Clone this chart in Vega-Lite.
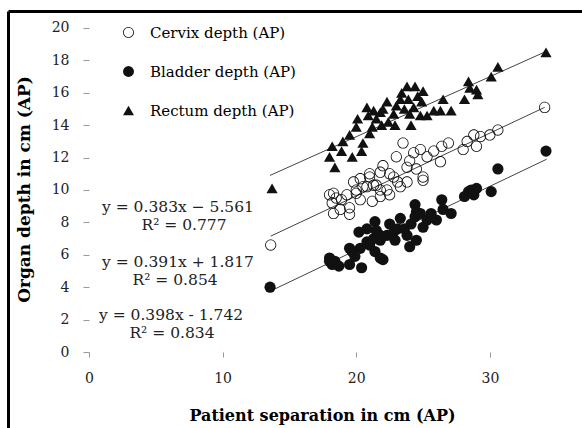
{
  "$schema": "https://vega.github.io/schema/vega-lite/v6.json",
  "width": 574,
  "height": 417,
  "autosize": "none",
  "padding": {"left": 8, "top": 11, "right": 0, "bottom": 0},
  "background": "white",
  "config": {
    "view": {"stroke": null},
    "font": "DejaVu Serif",
    "axis": {"labelFont": "DejaVu Serif", "titleFont": "DejaVu Serif", "grid": false}
  },
  "datasets": {
    "pts": [
      {"series": "Cervix depth (AP)", "sep": 13.6, "depth": 6.6},
      {"series": "Cervix depth (AP)", "sep": 18.0, "depth": 9.7},
      {"series": "Cervix depth (AP)", "sep": 18.2, "depth": 9.2},
      {"series": "Cervix depth (AP)", "sep": 18.3, "depth": 8.55},
      {"series": "Cervix depth (AP)", "sep": 18.3, "depth": 9.8},
      {"series": "Cervix depth (AP)", "sep": 18.5, "depth": 9.5},
      {"series": "Cervix depth (AP)", "sep": 18.8, "depth": 8.8},
      {"series": "Cervix depth (AP)", "sep": 18.9, "depth": 9.4},
      {"series": "Cervix depth (AP)", "sep": 19.3, "depth": 9.7},
      {"series": "Cervix depth (AP)", "sep": 19.5, "depth": 8.9},
      {"series": "Cervix depth (AP)", "sep": 19.5, "depth": 8.5},
      {"series": "Cervix depth (AP)", "sep": 19.8, "depth": 10.5},
      {"series": "Cervix depth (AP)", "sep": 20.0, "depth": 9.8},
      {"series": "Cervix depth (AP)", "sep": 20.0, "depth": 10.0},
      {"series": "Cervix depth (AP)", "sep": 20.3, "depth": 9.4},
      {"series": "Cervix depth (AP)", "sep": 20.3, "depth": 10.7},
      {"series": "Cervix depth (AP)", "sep": 20.5, "depth": 10.2},
      {"series": "Cervix depth (AP)", "sep": 20.8, "depth": 10.2},
      {"series": "Cervix depth (AP)", "sep": 21.0, "depth": 11.0},
      {"series": "Cervix depth (AP)", "sep": 21.0, "depth": 10.8},
      {"series": "Cervix depth (AP)", "sep": 21.2, "depth": 9.3},
      {"series": "Cervix depth (AP)", "sep": 21.3, "depth": 10.3},
      {"series": "Cervix depth (AP)", "sep": 21.5, "depth": 10.3},
      {"series": "Cervix depth (AP)", "sep": 21.8, "depth": 9.6},
      {"series": "Cervix depth (AP)", "sep": 21.8, "depth": 10.0},
      {"series": "Cervix depth (AP)", "sep": 21.8, "depth": 11.1},
      {"series": "Cervix depth (AP)", "sep": 22.0, "depth": 11.5},
      {"series": "Cervix depth (AP)", "sep": 22.3, "depth": 10.0},
      {"series": "Cervix depth (AP)", "sep": 22.5, "depth": 9.7},
      {"series": "Cervix depth (AP)", "sep": 22.5, "depth": 11.0},
      {"series": "Cervix depth (AP)", "sep": 22.8, "depth": 10.8},
      {"series": "Cervix depth (AP)", "sep": 23.0, "depth": 12.05},
      {"series": "Cervix depth (AP)", "sep": 23.1, "depth": 10.5},
      {"series": "Cervix depth (AP)", "sep": 23.3, "depth": 10.2},
      {"series": "Cervix depth (AP)", "sep": 23.5, "depth": 12.9},
      {"series": "Cervix depth (AP)", "sep": 23.8, "depth": 10.5},
      {"series": "Cervix depth (AP)", "sep": 23.8, "depth": 11.4},
      {"series": "Cervix depth (AP)", "sep": 24.0, "depth": 11.8},
      {"series": "Cervix depth (AP)", "sep": 24.3, "depth": 12.3},
      {"series": "Cervix depth (AP)", "sep": 24.5, "depth": 11.3},
      {"series": "Cervix depth (AP)", "sep": 24.8, "depth": 12.5},
      {"series": "Cervix depth (AP)", "sep": 25.0, "depth": 10.6},
      {"series": "Cervix depth (AP)", "sep": 25.0, "depth": 10.8},
      {"series": "Cervix depth (AP)", "sep": 25.3, "depth": 12.05},
      {"series": "Cervix depth (AP)", "sep": 25.8, "depth": 12.4},
      {"series": "Cervix depth (AP)", "sep": 26.3, "depth": 11.75},
      {"series": "Cervix depth (AP)", "sep": 26.4, "depth": 12.7},
      {"series": "Cervix depth (AP)", "sep": 26.9, "depth": 12.9},
      {"series": "Cervix depth (AP)", "sep": 28.0, "depth": 12.5},
      {"series": "Cervix depth (AP)", "sep": 28.3, "depth": 13.0},
      {"series": "Cervix depth (AP)", "sep": 28.8, "depth": 13.4},
      {"series": "Cervix depth (AP)", "sep": 29.0, "depth": 12.7},
      {"series": "Cervix depth (AP)", "sep": 29.3, "depth": 13.3},
      {"series": "Cervix depth (AP)", "sep": 30.0, "depth": 13.4},
      {"series": "Cervix depth (AP)", "sep": 30.6, "depth": 13.7},
      {"series": "Cervix depth (AP)", "sep": 34.1, "depth": 15.1},
      {"series": "Bladder depth (AP)", "sep": 13.55, "depth": 4.0},
      {"series": "Bladder depth (AP)", "sep": 18.0, "depth": 5.8},
      {"series": "Bladder depth (AP)", "sep": 18.2, "depth": 5.4},
      {"series": "Bladder depth (AP)", "sep": 18.4, "depth": 5.6},
      {"series": "Bladder depth (AP)", "sep": 18.0, "depth": 5.6},
      {"series": "Bladder depth (AP)", "sep": 18.7, "depth": 5.3},
      {"series": "Bladder depth (AP)", "sep": 19.5, "depth": 5.4},
      {"series": "Bladder depth (AP)", "sep": 20.4, "depth": 5.2},
      {"series": "Bladder depth (AP)", "sep": 19.7, "depth": 6.2},
      {"series": "Bladder depth (AP)", "sep": 20.3, "depth": 6.4},
      {"series": "Bladder depth (AP)", "sep": 19.5, "depth": 6.4},
      {"series": "Bladder depth (AP)", "sep": 19.9, "depth": 5.9},
      {"series": "Bladder depth (AP)", "sep": 20.8, "depth": 6.8},
      {"series": "Bladder depth (AP)", "sep": 21.0, "depth": 6.6},
      {"series": "Bladder depth (AP)", "sep": 21.4, "depth": 6.2},
      {"series": "Bladder depth (AP)", "sep": 22.0, "depth": 5.7},
      {"series": "Bladder depth (AP)", "sep": 21.8, "depth": 5.8},
      {"series": "Bladder depth (AP)", "sep": 21.3, "depth": 7.0},
      {"series": "Bladder depth (AP)", "sep": 21.8, "depth": 6.9},
      {"series": "Bladder depth (AP)", "sep": 20.2, "depth": 7.4},
      {"series": "Bladder depth (AP)", "sep": 20.8, "depth": 7.6},
      {"series": "Bladder depth (AP)", "sep": 21.4, "depth": 8.05},
      {"series": "Bladder depth (AP)", "sep": 21.5, "depth": 7.5},
      {"series": "Bladder depth (AP)", "sep": 21.8, "depth": 7.2},
      {"series": "Bladder depth (AP)", "sep": 22.3, "depth": 7.2},
      {"series": "Bladder depth (AP)", "sep": 22.5, "depth": 7.9},
      {"series": "Bladder depth (AP)", "sep": 22.8, "depth": 7.4},
      {"series": "Bladder depth (AP)", "sep": 22.9, "depth": 6.9},
      {"series": "Bladder depth (AP)", "sep": 23.1, "depth": 7.6},
      {"series": "Bladder depth (AP)", "sep": 23.3, "depth": 8.25},
      {"series": "Bladder depth (AP)", "sep": 23.6, "depth": 7.6},
      {"series": "Bladder depth (AP)", "sep": 23.8, "depth": 7.2},
      {"series": "Bladder depth (AP)", "sep": 24.0, "depth": 6.5},
      {"series": "Bladder depth (AP)", "sep": 24.1, "depth": 7.9},
      {"series": "Bladder depth (AP)", "sep": 24.4, "depth": 8.35},
      {"series": "Bladder depth (AP)", "sep": 24.5, "depth": 6.9},
      {"series": "Bladder depth (AP)", "sep": 24.4, "depth": 9.1},
      {"series": "Bladder depth (AP)", "sep": 24.5, "depth": 8.65},
      {"series": "Bladder depth (AP)", "sep": 24.8, "depth": 8.55},
      {"series": "Bladder depth (AP)", "sep": 25.0, "depth": 7.7},
      {"series": "Bladder depth (AP)", "sep": 25.3, "depth": 8.15},
      {"series": "Bladder depth (AP)", "sep": 25.6, "depth": 8.55},
      {"series": "Bladder depth (AP)", "sep": 26.0, "depth": 8.15},
      {"series": "Bladder depth (AP)", "sep": 26.4, "depth": 9.4},
      {"series": "Bladder depth (AP)", "sep": 26.5, "depth": 8.8},
      {"series": "Bladder depth (AP)", "sep": 27.1, "depth": 8.55},
      {"series": "Bladder depth (AP)", "sep": 28.1, "depth": 9.6},
      {"series": "Bladder depth (AP)", "sep": 28.4, "depth": 9.9},
      {"series": "Bladder depth (AP)", "sep": 28.6, "depth": 10.0},
      {"series": "Bladder depth (AP)", "sep": 29.0, "depth": 10.1},
      {"series": "Bladder depth (AP)", "sep": 28.8, "depth": 9.7},
      {"series": "Bladder depth (AP)", "sep": 30.1, "depth": 9.9},
      {"series": "Bladder depth (AP)", "sep": 30.6, "depth": 11.3},
      {"series": "Bladder depth (AP)", "sep": 34.2, "depth": 12.4},
      {"series": "Rectum depth (AP)", "sep": 13.7, "depth": 10.1},
      {"series": "Rectum depth (AP)", "sep": 18.2, "depth": 12.7},
      {"series": "Rectum depth (AP)", "sep": 18.0, "depth": 12.05},
      {"series": "Rectum depth (AP)", "sep": 18.4, "depth": 11.4},
      {"series": "Rectum depth (AP)", "sep": 18.9, "depth": 12.4},
      {"series": "Rectum depth (AP)", "sep": 19.0, "depth": 13.0},
      {"series": "Rectum depth (AP)", "sep": 19.7, "depth": 12.05},
      {"series": "Rectum depth (AP)", "sep": 19.5, "depth": 13.4},
      {"series": "Rectum depth (AP)", "sep": 20.4, "depth": 12.4},
      {"series": "Rectum depth (AP)", "sep": 20.5, "depth": 12.9},
      {"series": "Rectum depth (AP)", "sep": 20.0, "depth": 13.9},
      {"series": "Rectum depth (AP)", "sep": 20.1, "depth": 14.4},
      {"series": "Rectum depth (AP)", "sep": 20.8, "depth": 15.1},
      {"series": "Rectum depth (AP)", "sep": 20.9, "depth": 14.6},
      {"series": "Rectum depth (AP)", "sep": 21.0, "depth": 13.5},
      {"series": "Rectum depth (AP)", "sep": 21.3, "depth": 14.9},
      {"series": "Rectum depth (AP)", "sep": 21.5, "depth": 14.4},
      {"series": "Rectum depth (AP)", "sep": 21.8, "depth": 14.8},
      {"series": "Rectum depth (AP)", "sep": 22.0, "depth": 15.0},
      {"series": "Rectum depth (AP)", "sep": 22.3, "depth": 15.45},
      {"series": "Rectum depth (AP)", "sep": 21.2, "depth": 13.9},
      {"series": "Rectum depth (AP)", "sep": 21.9, "depth": 14.0},
      {"series": "Rectum depth (AP)", "sep": 22.4, "depth": 14.2},
      {"series": "Rectum depth (AP)", "sep": 22.8, "depth": 14.7},
      {"series": "Rectum depth (AP)", "sep": 22.9, "depth": 14.0},
      {"series": "Rectum depth (AP)", "sep": 23.0, "depth": 15.2},
      {"series": "Rectum depth (AP)", "sep": 23.3, "depth": 15.6},
      {"series": "Rectum depth (AP)", "sep": 23.4, "depth": 16.0},
      {"series": "Rectum depth (AP)", "sep": 23.6, "depth": 15.0},
      {"series": "Rectum depth (AP)", "sep": 23.8, "depth": 16.4},
      {"series": "Rectum depth (AP)", "sep": 23.9, "depth": 15.6},
      {"series": "Rectum depth (AP)", "sep": 24.3, "depth": 15.1},
      {"series": "Rectum depth (AP)", "sep": 24.4, "depth": 16.4},
      {"series": "Rectum depth (AP)", "sep": 24.6, "depth": 15.8},
      {"series": "Rectum depth (AP)", "sep": 24.0, "depth": 14.7},
      {"series": "Rectum depth (AP)", "sep": 24.1, "depth": 14.0},
      {"series": "Rectum depth (AP)", "sep": 24.8, "depth": 14.6},
      {"series": "Rectum depth (AP)", "sep": 24.9, "depth": 15.45},
      {"series": "Rectum depth (AP)", "sep": 25.0, "depth": 16.1},
      {"series": "Rectum depth (AP)", "sep": 25.3, "depth": 14.6},
      {"series": "Rectum depth (AP)", "sep": 25.8, "depth": 14.9},
      {"series": "Rectum depth (AP)", "sep": 26.3, "depth": 14.9},
      {"series": "Rectum depth (AP)", "sep": 26.5, "depth": 15.6},
      {"series": "Rectum depth (AP)", "sep": 27.1, "depth": 14.9},
      {"series": "Rectum depth (AP)", "sep": 28.1, "depth": 15.6},
      {"series": "Rectum depth (AP)", "sep": 28.4, "depth": 16.7},
      {"series": "Rectum depth (AP)", "sep": 28.5, "depth": 16.3},
      {"series": "Rectum depth (AP)", "sep": 29.0, "depth": 16.2},
      {"series": "Rectum depth (AP)", "sep": 29.1, "depth": 15.9},
      {"series": "Rectum depth (AP)", "sep": 30.1, "depth": 17.0},
      {"series": "Rectum depth (AP)", "sep": 30.6, "depth": 17.6},
      {"series": "Rectum depth (AP)", "sep": 34.2, "depth": 18.5}
    ],
    "fits": [
      {"series": "Rectum", "sep": 13.55, "depth": 10.9},
      {"series": "Rectum", "sep": 34.2, "depth": 18.55},
      {"series": "Cervix", "sep": 13.6, "depth": 7.15},
      {"series": "Cervix", "sep": 34.1, "depth": 15.1},
      {"series": "Bladder", "sep": 13.55, "depth": 3.75},
      {"series": "Bladder", "sep": 34.25, "depth": 11.9}
    ],
    "eqs": [
      {"label": "y = 0.383x − 5.561", "sep": 6.66, "depth": 8.95},
      {"label": "R² = 0.777", "sep": 7.11, "depth": 7.84},
      {"label": "y = 0.391x + 1.817", "sep": 6.66, "depth": 5.57},
      {"label": "R² = 0.854", "sep": 6.44, "depth": 4.44},
      {"label": "y = 0.398x - 1.742", "sep": 6.14, "depth": 2.28},
      {"label": "R² = 0.834", "sep": 6.21, "depth": 1.15}
    ]
  },
  "layer": [
    {
      "data": {"name": "fits"},
      "mark": {"type": "line", "color": "#444", "strokeWidth": 1},
      "encoding": {
        "x": {"field": "sep", "type": "quantitative", "scale": {"domain": [-6.061, 36.894], "nice": false, "zero": false},
          "axis": {"orient": "top", "domain": true, "domainColor": "black", "domainWidth": 3, "ticks": false, "labels": false, "grid": false, "title": null}},
        "y": {"field": "depth", "type": "quantitative", "scale": {"domain": [-4.691, 21.049], "nice": false, "zero": false},
          "axis": {"orient": "left", "domain": true, "domainColor": "black", "domainWidth": 3, "ticks": false, "labels": false, "grid": false, "title": null}},
        "detail": {"field": "series", "type": "nominal"}
      }
    },
    {
      "mark": {"type": "rule", "color": "#999", "strokeWidth": 1},
      "encoding": {
        "x": {"datum": 0, "type": "quantitative", "scale": {"domain": [-6.061, 36.894], "nice": false, "zero": false}, "axis": null},
        "x2": {"datum": 35},
        "y": {"datum": 0, "type": "quantitative", "scale": {"domain": [-4.691, 21.049], "nice": false, "zero": false}, "axis": null}
      }
    },
    {
      "mark": {"type": "rule", "color": "#999", "strokeWidth": 1},
      "encoding": {
        "x": {"datum": 0, "type": "quantitative", "scale": {"domain": [-6.061, 36.894], "nice": false, "zero": false}, "axis": null},
        "y": {"datum": 0, "type": "quantitative", "scale": {"domain": [-4.691, 21.049], "nice": false, "zero": false}, "axis": null},
        "y2": {"datum": 20}
      }
    },
    {
      "data": {"name": "eqs"},
      "mark": {"type": "text", "font": "DejaVu Serif", "fontSize": 15.5, "color": "#222", "align": "center", "baseline": "middle"},
      "encoding": {
        "x": {"field": "sep", "type": "quantitative", "scale": {"domain": [-6.061, 36.894], "nice": false, "zero": false}, "axis": null},
        "y": {"field": "depth", "type": "quantitative", "scale": {"domain": [-4.691, 21.049], "nice": false, "zero": false}, "axis": null},
        "text": {"field": "label", "type": "nominal"}
      }
    },
    {
      "data": {"name": "pts"},
      "mark": {"type": "point", "filled": true, "color": "#111", "opacity": 1, "size": 125},
      "encoding": {
        "x": {"field": "sep", "type": "quantitative", "scale": {"domain": [-6.061, 36.894], "nice": false, "zero": false},
          "axis": {"orient": "bottom", "offset": -76, "values": [0, 10, 20, 30], "domain": false, "grid": false, "ticks": true, "tickSize": 5, "tickColor": "#999",
            "labelFontSize": 14, "labelColor": "#222", "labelPadding": 14,
            "title": "Patient separation in cm (AP)", "titleFontSize": 16, "titleFontWeight": "bold", "titleColor": "black",
            "titleX": 314, "titleY": 68, "titleBaseline": "alphabetic", "titleAlign": "center"}},
        "y": {"field": "depth", "type": "quantitative", "scale": {"domain": [-4.691, 21.049], "nice": false, "zero": false},
          "axis": {"orient": "left", "offset": -81, "values": [0, 2, 4, 6, 8, 10, 12, 14, 16, 18, 20], "domain": false, "grid": false, "ticks": true, "tickSize": 6, "tickColor": "#999",
            "labelFontSize": 14, "labelColor": "#222", "labelPadding": 14,
            "title": "Organ depth in cm (AP)", "titleFontSize": 17, "titleFontWeight": "bold", "titleColor": "black",
            "titleX": -65, "titleY": 178, "titleAngle": 270, "titleBaseline": "middle", "titleAlign": "center"}},
        "shape": {"field": "series", "type": "nominal",
          "scale": {"domain": ["Cervix depth (AP)", "Bladder depth (AP)", "Rectum depth (AP)"],
            "range": ["M1,0A1,1 0 1,0 -1,0A1,1 0 1,0 1,0Z M0.85,0A0.85,0.85 0 1,1 -0.85,0A0.85,0.85 0 1,1 0.85,0Z", "circle", "triangle-up"]},
          "legend": {"orient": "none", "legendX": 113, "legendY": 14, "title": null, "padding": 0, "rowPadding": 23, "labelOffset": 14,
            "labelFont": "DejaVu Serif", "labelFontSize": 15, "labelColor": "black", "symbolSize": 120, "symbolFillColor": "#111", "symbolStrokeWidth": 0}}
      }
    }
  ],
  "resolve": {"axis": {"x": "independent", "y": "independent"}}
}
